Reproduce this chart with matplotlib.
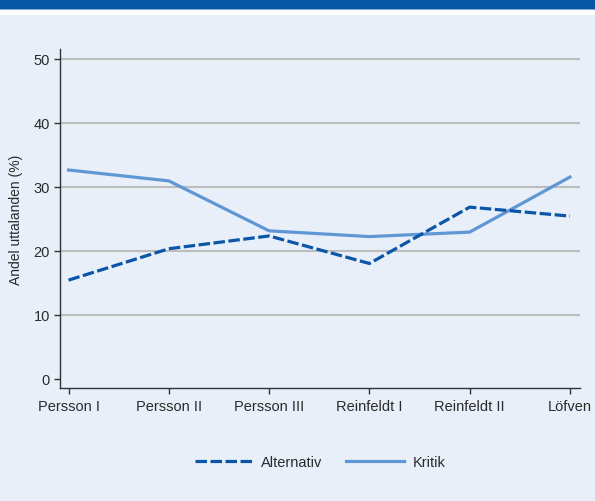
import matplotlib.pyplot as plt
from matplotlib.patches import Rectangle

plt.rcParams['font.family'] = ['Liberation Sans', 'DejaVu Sans']

regeringar = ["Persson I", "Persson II", "Persson III", "Reinfeldt I", "Reinfeldt II", "Löfven"]
alternativ = [15.4, 20.3, 22.3, 18.0, 26.8, 25.4]
kritik = [32.6, 30.9, 23.1, 22.2, 22.9, 31.5]
yticks = [0, 10, 20, 30, 40, 50]

bg = "#E8EFF8"
text_col = "#2B2B2B"

fig = plt.figure(figsize=(5.95, 5.02), dpi=100, facecolor=bg)

# banner at the top
fig.patches.append(Rectangle((0, 1 - 16 / 502), 1, 16 / 502, transform=fig.transFigure,
                             facecolor="white", edgecolor="none", zorder=0))
fig.patches.append(Rectangle((0, 1 - 11 / 502), 1, 1 / 502, transform=fig.transFigure,
                             facecolor="#7EA6D6", edgecolor="none", zorder=1))
fig.patches.append(Rectangle((0, 1 - 10 / 502), 1, 10 / 502, transform=fig.transFigure,
                             facecolor="#0757A5", edgecolor="none", zorder=2))

ax = fig.add_axes([59.5 / 595, 113 / 502, 520.5 / 595, 339 / 502])
ax.set_facecolor(bg)

x = range(len(regeringar))
for v in yticks[1:]:
    ax.axhline(v, color="#BDBDBD", lw=1.5, zorder=1)

ax.plot(x, alternativ, color="#0A55A8", lw=2.3, linestyle=(0, (3.6, 1.1)),
        label="Alternativ", zorder=3)
ax.plot(x, kritik, color="#5F97D4", lw=2.3, label="Kritik", zorder=2)

ax.set_xlim(-0.09, 5.1)
ax.set_ylim(-1.45, 51.5)
ax.set_xticks(list(x))
ax.set_xticklabels(regeringar)
ax.set_yticks(yticks)

for s in ["top", "right"]:
    ax.spines[s].set_visible(False)
for s in ["left", "bottom"]:
    ax.spines[s].set_color("#333333")
    ax.spines[s].set_linewidth(1.0)

ax.tick_params(axis="both", direction="out", length=4.3, width=1.0, color="#333333",
               labelsize=10.5, labelcolor=text_col)
ax.tick_params(axis="y", pad=2.5)
ax.tick_params(axis="x", pad=3.5)

ax.set_ylabel("Andel uttalanden (%)", fontsize=10, color=text_col)
ax.yaxis.set_label_coords(-36 / 520.5, 0.5)

fig.legend(loc="center", bbox_to_anchor=(320 / 595, 1 - 463 / 502), ncol=2,
           frameon=False, fontsize=10.5, handlelength=4.0, handletextpad=0.55,
           columnspacing=1.6, labelcolor=text_col)

fig.savefig("out.png", dpi=100, facecolor=bg)
